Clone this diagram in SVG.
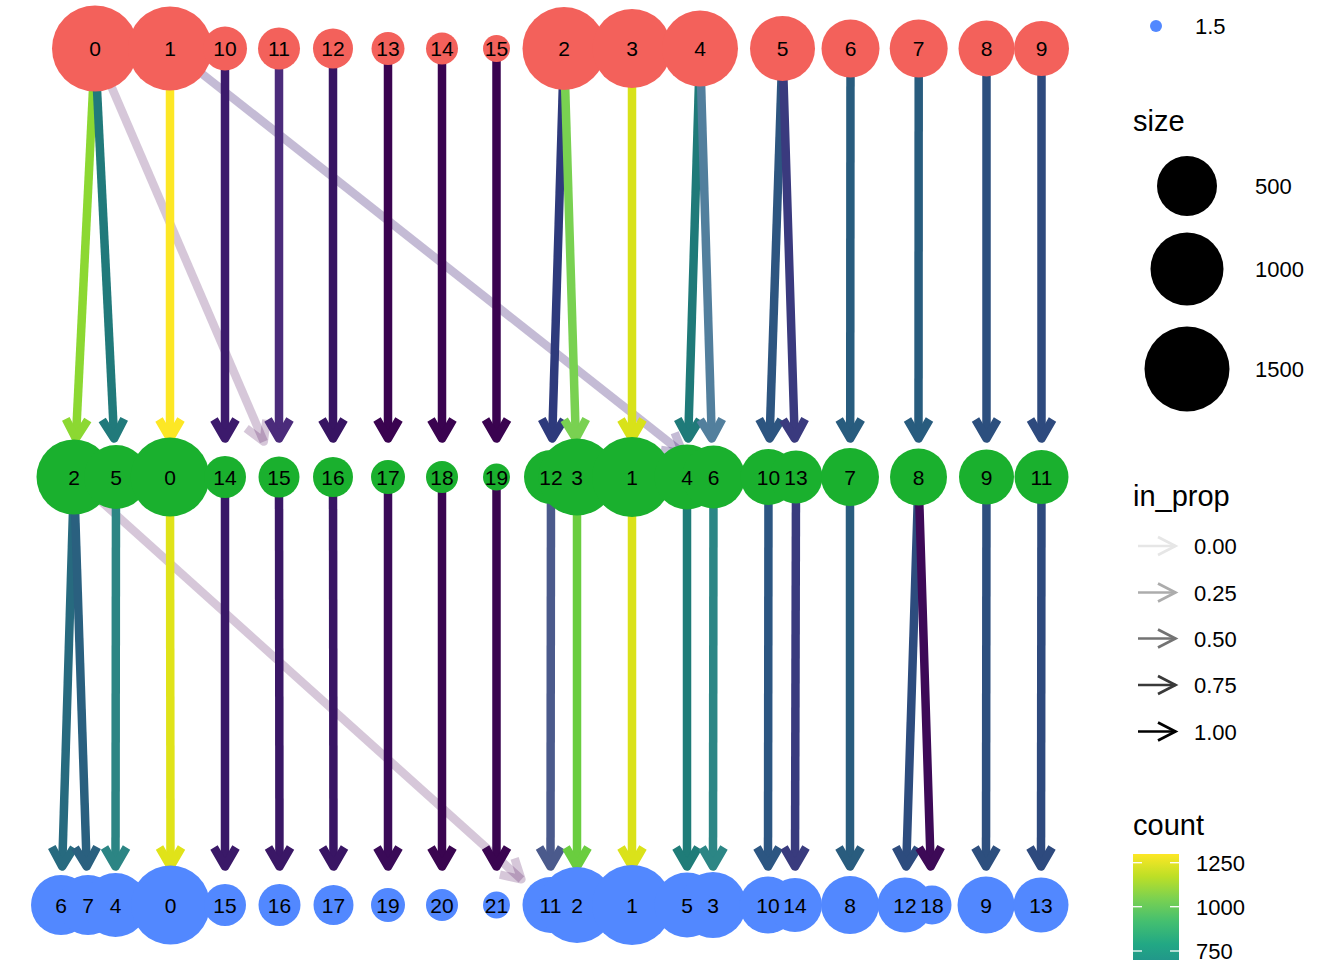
<svg xmlns="http://www.w3.org/2000/svg" width="1344" height="960" viewBox="0 0 1344 960">
<style>
text{font-family:"Liberation Sans",Arial,sans-serif;fill:#000}
.lbl text{font-size:21px;text-anchor:middle}
.top circle{fill:#F3615B}
.mid circle{fill:#1AB02E}
.bot circle{fill:#5288FF}
.ltxt{font-size:22px}
.ltitle{font-size:29px}
.la{fill:none;stroke-width:2.7}
</style>
<defs>
<linearGradient id="viridis" gradientUnits="userSpaceOnUse" x1="0" y1="1079" x2="0" y2="854">
<stop offset="0" stop-color="#440154"/>
<stop offset="0.1" stop-color="#482475"/>
<stop offset="0.2" stop-color="#414487"/>
<stop offset="0.3" stop-color="#355F8D"/>
<stop offset="0.4" stop-color="#2A788E"/>
<stop offset="0.5" stop-color="#21918C"/>
<stop offset="0.6" stop-color="#22A884"/>
<stop offset="0.7" stop-color="#44BF70"/>
<stop offset="0.8" stop-color="#7AD151"/>
<stop offset="0.9" stop-color="#BDDF26"/>
<stop offset="1" stop-color="#FDE725"/>
</linearGradient>
</defs>
<rect width="1344" height="960" fill="#fff"/>
<g id="connectors" fill="none" stroke-width="8.5" stroke-linejoin="round">
<g id="e-r0c0-r1c15" stroke="#440154" stroke-opacity="0.22"><line x1="95" y1="48.5" x2="263.8" y2="441.6"/><path d="M246.2 428.4L263.8 441.6L266.4 419.8"/></g>
<g id="e-r0c1-r1c6" stroke="#472D7B" stroke-opacity="0.32"><line x1="170" y1="48.5" x2="682.8" y2="453.1"/><path d="M661 449.9L682.8 453.1L674.7 432.7"/></g>
<g id="e-r1c2-r2c11" stroke="#440154" stroke-opacity="0.22"><line x1="74" y1="477" x2="521.4" y2="879.3"/><path d="M499.9 874.7L521.4 879.3L514.6 858.4"/></g>
<g id="e-r0c0-r1c2" stroke="#8CD832"><line x1="95" y1="48.5" x2="75.9" y2="438.5"/><path d="M65.8 418.9L75.9 438.5L87.8 420"/></g>
<g id="e-r0c0-r1c5" stroke="#217A7B"><line x1="95" y1="48.5" x2="114.1" y2="438.5"/><path d="M102.2 420L114.1 438.5L124.2 418.9"/></g>
<g id="e-r0c1-r1c0" stroke="#FDE725"><line x1="170" y1="48.5" x2="170" y2="438.5"/><path d="M159 419.5L170 438.5L181 419.5"/></g>
<g id="e-r0c10-r1c14" stroke="#3C1A6C"><line x1="225" y1="48.5" x2="225" y2="438.5"/><path d="M214 419.5L225 438.5L236 419.5"/></g>
<g id="e-r0c11-r1c15" stroke="#4B2B7B"><line x1="279" y1="48.5" x2="279" y2="438.5"/><path d="M268 419.5L279 438.5L290 419.5"/></g>
<g id="e-r0c12-r1c16" stroke="#371462"><line x1="333" y1="48.5" x2="333" y2="438.5"/><path d="M322 419.5L333 438.5L344 419.5"/></g>
<g id="e-r0c13-r1c17" stroke="#3A0350"><line x1="388" y1="48.5" x2="388" y2="438.5"/><path d="M377 419.5L388 438.5L399 419.5"/></g>
<g id="e-r0c14-r1c18" stroke="#3A0350"><line x1="442" y1="48.5" x2="442" y2="438.5"/><path d="M431 419.5L442 438.5L453 419.5"/></g>
<g id="e-r0c15-r1c19" stroke="#3A0350"><line x1="496.5" y1="48.5" x2="496.5" y2="438.5"/><path d="M485.5 419.5L496.5 438.5L507.5 419.5"/></g>
<g id="e-r0c2-r1c12" stroke="#2E3A7C"><line x1="564" y1="48.5" x2="552.2" y2="438.5"/><path d="M541.8 419.1L552.2 438.5L563.8 419.8"/></g>
<g id="e-r0c2-r1c3" stroke="#79D151"><line x1="564" y1="48.5" x2="575.8" y2="438.5"/><path d="M564.2 419.8L575.8 438.5L586.2 419.1"/></g>
<g id="e-r0c3-r1c1" stroke="#D8E219"><line x1="632" y1="48.5" x2="632" y2="438.5"/><path d="M621 419.5L632 438.5L643 419.5"/></g>
<g id="e-r0c4-r1c4" stroke="#1F7A79"><line x1="700" y1="48.5" x2="688.2" y2="438.5"/><path d="M677.8 419.1L688.2 438.5L699.8 419.8"/></g>
<g id="e-r0c4-r1c6" stroke="#527F9D"><line x1="700" y1="48.5" x2="711.8" y2="438.5"/><path d="M700.2 419.8L711.8 438.5L722.2 419.1"/></g>
<g id="e-r0c5-r1c10" stroke="#2D5580"><line x1="782.5" y1="48.5" x2="769.6" y2="438.5"/><path d="M759.2 419.1L769.6 438.5L781.2 419.8"/></g>
<g id="e-r0c5-r1c13" stroke="#3A3A7E"><line x1="782.5" y1="48.5" x2="794.7" y2="438.5"/><path d="M783.1 419.8L794.7 438.5L805.1 419.1"/></g>
<g id="e-r0c6-r1c7" stroke="#285C7E"><line x1="850.5" y1="48.5" x2="850.2" y2="438.5"/><path d="M839.2 419.5L850.2 438.5L861.2 419.5"/></g>
<g id="e-r0c7-r1c8" stroke="#285C7E"><line x1="918.7" y1="48.5" x2="918.5" y2="438.5"/><path d="M907.5 419.5L918.5 438.5L929.5 419.5"/></g>
<g id="e-r0c8-r1c9" stroke="#2C4F7E"><line x1="986.5" y1="48.5" x2="986.5" y2="438.5"/><path d="M975.5 419.5L986.5 438.5L997.5 419.5"/></g>
<g id="e-r0c9-r1c11" stroke="#2E4A7E"><line x1="1041.5" y1="48.5" x2="1041.5" y2="438.5"/><path d="M1030.5 419.5L1041.5 438.5L1052.5 419.5"/></g>
<g id="e-r1c2-r2c6" stroke="#276A7F"><line x1="74" y1="477" x2="62.2" y2="866.5"/><path d="M51.8 847.1L62.2 866.5L73.8 847.8"/></g>
<g id="e-r1c2-r2c7" stroke="#2A607F"><line x1="74" y1="477" x2="86.7" y2="866.5"/><path d="M75.1 847.8L86.7 866.5L97.1 847.1"/></g>
<g id="e-r1c5-r2c4" stroke="#2C8584"><line x1="116" y1="477" x2="115.5" y2="866.5"/><path d="M104.5 847.5L115.5 866.5L126.5 847.5"/></g>
<g id="e-r1c0-r2c0" stroke="#E0E319"><line x1="170" y1="477" x2="170.5" y2="866.5"/><path d="M159.5 847.5L170.5 866.5L181.5 847.5"/></g>
<g id="e-r1c14-r2c15" stroke="#3A1968"><line x1="225" y1="477" x2="225" y2="866.5"/><path d="M214 847.5L225 866.5L236 847.5"/></g>
<g id="e-r1c15-r2c16" stroke="#3A1766"><line x1="279" y1="477" x2="279.5" y2="866.5"/><path d="M268.5 847.5L279.5 866.5L290.5 847.5"/></g>
<g id="e-r1c16-r2c17" stroke="#391564"><line x1="333" y1="477" x2="333.5" y2="866.5"/><path d="M322.5 847.5L333.5 866.5L344.5 847.5"/></g>
<g id="e-r1c17-r2c19" stroke="#3A0A58"><line x1="388" y1="477" x2="388" y2="866.5"/><path d="M377 847.5L388 866.5L399 847.5"/></g>
<g id="e-r1c18-r2c20" stroke="#3A0550"><line x1="442" y1="477" x2="442" y2="866.5"/><path d="M431 847.5L442 866.5L453 847.5"/></g>
<g id="e-r1c19-r2c21" stroke="#3A0550"><line x1="496.5" y1="477" x2="496.5" y2="866.5"/><path d="M485.5 847.5L496.5 866.5L507.5 847.5"/></g>
<g id="e-r1c12-r2c11" stroke="#4B5A8C"><line x1="551" y1="477" x2="550.5" y2="866.5"/><path d="M539.5 847.5L550.5 866.5L561.5 847.5"/></g>
<g id="e-r1c3-r2c2" stroke="#6ACD3F"><line x1="577" y1="477" x2="577" y2="866.5"/><path d="M566 847.5L577 866.5L588 847.5"/></g>
<g id="e-r1c1-r2c1" stroke="#DAE21A"><line x1="632" y1="477" x2="632" y2="866.5"/><path d="M621 847.5L632 866.5L643 847.5"/></g>
<g id="e-r1c4-r2c5" stroke="#1F7C78"><line x1="687" y1="477" x2="687" y2="866.5"/><path d="M676 847.5L687 866.5L698 847.5"/></g>
<g id="e-r1c6-r2c3" stroke="#2C8685"><line x1="713.5" y1="477" x2="713" y2="866.5"/><path d="M702 847.5L713 866.5L724 847.5"/></g>
<g id="e-r1c10-r2c10" stroke="#2C5682"><line x1="768.5" y1="477" x2="768" y2="866.5"/><path d="M757 847.5L768 866.5L779 847.5"/></g>
<g id="e-r1c13-r2c14" stroke="#393B7E"><line x1="796" y1="477" x2="795" y2="866.5"/><path d="M784 847.5L795 866.5L806 847.5"/></g>
<g id="e-r1c7-r2c8" stroke="#295C7E"><line x1="850" y1="477" x2="850" y2="866.5"/><path d="M839 847.5L850 866.5L861 847.5"/></g>
<g id="e-r1c8-r2c12" stroke="#2D4C7E"><line x1="918.5" y1="477" x2="906.2" y2="866.5"/><path d="M895.8 847.1L906.2 866.5L917.8 847.8"/></g>
<g id="e-r1c8-r2c18" stroke="#3D0A57"><line x1="918.5" y1="477" x2="930.7" y2="866.5"/><path d="M919.1 847.8L930.7 866.5L941.1 847.1"/></g>
<g id="e-r1c9-r2c9" stroke="#2D4F7E"><line x1="986.5" y1="477" x2="986" y2="866.5"/><path d="M975 847.5L986 866.5L997 847.5"/></g>
<g id="e-r1c11-r2c13" stroke="#2E4A7E"><line x1="1041.5" y1="477" x2="1041" y2="866.5"/><path d="M1030 847.5L1041 866.5L1052 847.5"/></g>
</g>
<g id="nodes">
<g class="top">
<g id="node-r0c0"><circle cx="95" cy="48.5" r="43"/></g>
<g id="node-r0c1"><circle cx="170" cy="48.5" r="42"/></g>
<g id="node-r0c10"><circle cx="225" cy="48.5" r="22"/></g>
<g id="node-r0c11"><circle cx="279" cy="48.5" r="21"/></g>
<g id="node-r0c12"><circle cx="333" cy="48.5" r="20"/></g>
<g id="node-r0c13"><circle cx="388" cy="48.5" r="16.5"/></g>
<g id="node-r0c14"><circle cx="442" cy="48.5" r="16"/></g>
<g id="node-r0c15"><circle cx="496.5" cy="48.5" r="13.5"/></g>
<g id="node-r0c2"><circle cx="564" cy="48.5" r="41.5"/></g>
<g id="node-r0c3"><circle cx="632" cy="48.5" r="39.5"/></g>
<g id="node-r0c4"><circle cx="700" cy="48.5" r="38"/></g>
<g id="node-r0c5"><circle cx="782.5" cy="48.5" r="32.5"/></g>
<g id="node-r0c6"><circle cx="850.5" cy="48.5" r="29"/></g>
<g id="node-r0c7"><circle cx="918.7" cy="48.5" r="29"/></g>
<g id="node-r0c8"><circle cx="986.5" cy="48.5" r="28"/></g>
<g id="node-r0c9"><circle cx="1041.5" cy="48.5" r="27.5"/></g>
</g>
<g class="mid">
<g id="node-r1c2"><circle cx="74" cy="477" r="37.5"/></g>
<g id="node-r1c5"><circle cx="116" cy="477" r="32"/></g>
<g id="node-r1c0"><circle cx="170" cy="477" r="39.5"/></g>
<g id="node-r1c14"><circle cx="225" cy="477" r="21"/></g>
<g id="node-r1c15"><circle cx="279" cy="477" r="20.5"/></g>
<g id="node-r1c16"><circle cx="333" cy="477" r="20"/></g>
<g id="node-r1c17"><circle cx="388" cy="477" r="17"/></g>
<g id="node-r1c18"><circle cx="442" cy="477" r="16"/></g>
<g id="node-r1c19"><circle cx="496.5" cy="477" r="13.5"/></g>
<g id="node-r1c12"><circle cx="551" cy="477" r="27"/></g>
<g id="node-r1c3"><circle cx="577" cy="477" r="38.5"/></g>
<g id="node-r1c1"><circle cx="632" cy="477" r="40"/></g>
<g id="node-r1c4"><circle cx="687" cy="477" r="32.5"/></g>
<g id="node-r1c6"><circle cx="713.5" cy="477" r="31.5"/></g>
<g id="node-r1c10"><circle cx="768.5" cy="477" r="28"/></g>
<g id="node-r1c13"><circle cx="796" cy="477" r="26.5"/></g>
<g id="node-r1c7"><circle cx="850" cy="477" r="29"/></g>
<g id="node-r1c8"><circle cx="918.5" cy="477" r="28.5"/></g>
<g id="node-r1c9"><circle cx="986.5" cy="477" r="27.5"/></g>
<g id="node-r1c11"><circle cx="1041.5" cy="477" r="27"/></g>
</g>
<g class="bot">
<g id="node-r2c6"><circle cx="61" cy="905" r="30"/></g>
<g id="node-r2c7"><circle cx="88" cy="905" r="30"/></g>
<g id="node-r2c4"><circle cx="115.5" cy="905" r="32"/></g>
<g id="node-r2c0"><circle cx="170.5" cy="905" r="39.5"/></g>
<g id="node-r2c15"><circle cx="225" cy="905" r="21"/></g>
<g id="node-r2c16"><circle cx="279.5" cy="905" r="21"/></g>
<g id="node-r2c17"><circle cx="333.5" cy="905" r="20"/></g>
<g id="node-r2c19"><circle cx="388" cy="905" r="17"/></g>
<g id="node-r2c20"><circle cx="442" cy="905" r="16"/></g>
<g id="node-r2c21"><circle cx="496.5" cy="905" r="13.5"/></g>
<g id="node-r2c11"><circle cx="550.5" cy="905" r="28"/></g>
<g id="node-r2c2"><circle cx="577" cy="905" r="38"/></g>
<g id="node-r2c1"><circle cx="632" cy="905" r="40"/></g>
<g id="node-r2c5"><circle cx="687" cy="905" r="32.5"/></g>
<g id="node-r2c3"><circle cx="713" cy="905" r="33"/></g>
<g id="node-r2c10"><circle cx="768" cy="905" r="28.5"/></g>
<g id="node-r2c14"><circle cx="795" cy="905" r="27"/></g>
<g id="node-r2c8"><circle cx="850" cy="905" r="29"/></g>
<g id="node-r2c12"><circle cx="905" cy="905" r="27.5"/></g>
<g id="node-r2c18"><circle cx="932" cy="905" r="19.5"/></g>
<g id="node-r2c9"><circle cx="986" cy="905" r="28.5"/></g>
<g id="node-r2c13"><circle cx="1041" cy="905" r="27.5"/></g>
</g>
</g>
<g id="node-labels" class="lbl">
<text x="95" y="56">0</text><text x="170" y="56">1</text><text x="225" y="56">10</text><text x="279" y="56">11</text><text x="333" y="56">12</text><text x="388" y="56">13</text><text x="442" y="56">14</text><text x="496.5" y="56">15</text><text x="564" y="56">2</text><text x="632" y="56">3</text><text x="700" y="56">4</text><text x="782.5" y="56">5</text><text x="850.5" y="56">6</text><text x="918.7" y="56">7</text><text x="986.5" y="56">8</text><text x="1041.5" y="56">9</text>
<text x="74" y="484.8">2</text><text x="116" y="484.8">5</text><text x="170" y="484.8">0</text><text x="225" y="484.8">14</text><text x="279" y="484.8">15</text><text x="333" y="484.8">16</text><text x="388" y="484.8">17</text><text x="442" y="484.8">18</text><text x="496.5" y="484.8">19</text><text x="551" y="484.8">12</text><text x="577" y="484.8">3</text><text x="632" y="484.8">1</text><text x="687" y="484.8">4</text><text x="713.5" y="484.8">6</text><text x="768.5" y="484.8">10</text><text x="796" y="484.8">13</text><text x="850" y="484.8">7</text><text x="918.5" y="484.8">8</text><text x="986.5" y="484.8">9</text><text x="1041.5" y="484.8">11</text>
<text x="61" y="912.6">6</text><text x="88" y="912.6">7</text><text x="115.5" y="912.6">4</text><text x="170.5" y="912.6">0</text><text x="225" y="912.6">15</text><text x="279.5" y="912.6">16</text><text x="333.5" y="912.6">17</text><text x="388" y="912.6">19</text><text x="442" y="912.6">20</text><text x="496.5" y="912.6">21</text><text x="550.5" y="912.6">11</text><text x="577" y="912.6">2</text><text x="632" y="912.6">1</text><text x="687" y="912.6">5</text><text x="713" y="912.6">3</text><text x="768" y="912.6">10</text><text x="795" y="912.6">14</text><text x="850" y="912.6">8</text><text x="905" y="912.6">12</text><text x="932" y="912.6">18</text><text x="986" y="912.6">9</text><text x="1041" y="912.6">13</text>
</g>
<g id="legend">
<circle cx="1156" cy="26" r="6" fill="#5288FF"/>
<text class="ltxt" x="1195" y="34">1.5</text>
<text class="ltitle" x="1133" y="131">size</text>
<circle cx="1187" cy="186" r="30"/>
<circle cx="1187" cy="269" r="36.5"/>
<circle cx="1187" cy="369" r="42.5"/>
<text class="ltxt" x="1255" y="194">500</text>
<text class="ltxt" x="1255" y="277">1000</text>
<text class="ltxt" x="1255" y="377">1500</text>
<text class="ltitle" x="1133" y="506">in_prop</text>
<g class="la" stroke="#E6E6E6"><line x1="1138" y1="546" x2="1175.5" y2="546"/><path d="M1158 537L1175.5 546L1158 555"/></g>
<g class="la" stroke="#ACACAC"><line x1="1138" y1="592.5" x2="1175.5" y2="592.5"/><path d="M1158 583.5L1175.5 592.5L1158 601.5"/></g>
<g class="la" stroke="#737373"><line x1="1138" y1="638.5" x2="1175.5" y2="638.5"/><path d="M1158 629.5L1175.5 638.5L1158 647.5"/></g>
<g class="la" stroke="#393939"><line x1="1138" y1="685" x2="1175.5" y2="685"/><path d="M1158 676L1175.5 685L1158 694"/></g>
<g class="la" stroke="#000"><line x1="1138" y1="731.5" x2="1175.5" y2="731.5"/><path d="M1158 722.5L1175.5 731.5L1158 740.5"/></g>
<text class="ltxt" x="1194" y="554">0.00</text>
<text class="ltxt" x="1194" y="600.5">0.25</text>
<text class="ltxt" x="1194" y="646.5">0.50</text>
<text class="ltxt" x="1194" y="693">0.75</text>
<text class="ltxt" x="1194" y="739.5">1.00</text>
<text class="ltitle" x="1133" y="835">count</text>
<rect x="1133" y="854" width="46" height="110" fill="url(#viridis)"/>
<g stroke="#fff" stroke-width="1.3">
<line x1="1133" y1="862.7" x2="1142" y2="862.7"/><line x1="1170" y1="862.7" x2="1179" y2="862.7"/>
<line x1="1133" y1="906.7" x2="1142" y2="906.7"/><line x1="1170" y1="906.7" x2="1179" y2="906.7"/>
<line x1="1133" y1="951" x2="1142" y2="951"/><line x1="1170" y1="951" x2="1179" y2="951"/>
</g>
<text class="ltxt" x="1196" y="871">1250</text>
<text class="ltxt" x="1196" y="915">1000</text>
<text class="ltxt" x="1196" y="959">750</text>
</g>
</svg>
